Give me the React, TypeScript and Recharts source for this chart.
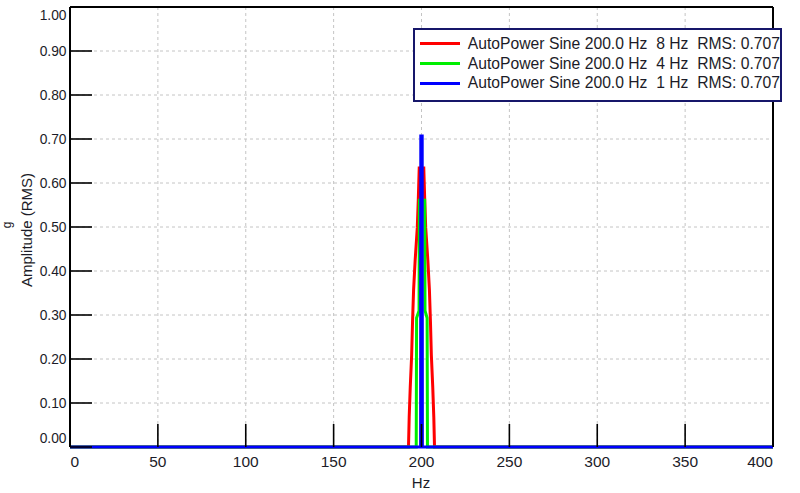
import React from "react";
import { LineChart, Line, XAxis, YAxis, CartesianGrid, ReferenceLine } from "recharts";

const xTicks = [0, 50, 100, 150, 200, 250, 300, 350, 400];
const yTicks = [0, 0.1, 0.2, 0.3, 0.4, 0.5, 0.6, 0.7, 0.8, 0.9, 1.0];

// 8 Hz bandwidth (red)
const redHz = [0, 192.6, 193.0, 193.6, 194.4, 194.9, 195.5, 196.4, 197.6, 198.2, 198.7,
  201.3, 201.8, 202.4, 203.6, 204.5, 205.1, 205.6, 206.4, 207.0, 207.4, 400];
const redAmp = [0, 0, 0.068, 0.136, 0.209, 0.284, 0.357, 0.425, 0.498, 0.566, 0.634,
  0.634, 0.566, 0.498, 0.425, 0.357, 0.284, 0.209, 0.136, 0.068, 0, 0];

// 4 Hz bandwidth (green)
const greenHz = [0, 197.0, 197.2, 198.6, 198.8, 201.8, 202.0, 203.2, 203.4, 400];
const greenAmp = [0, 0, 0.293, 0.31, 0.561, 0.561, 0.31, 0.293, 0, 0];

// 1 Hz bandwidth (blue)
const blueHz = [0, 199.5, 199.6, 200.4, 200.5, 400];
const blueAmp = [0, 0, 0.707, 0.707, 0, 0];

const legendNames = [
  "AutoPower Sine 200.0 Hz  8 Hz  RMS: 0.707",
  "AutoPower Sine 200.0 Hz  4 Hz  RMS: 0.707",
  "AutoPower Sine 200.0 Hz  1 Hz  RMS: 0.707",
];
const colors = ["#ff0000", "#00ee00", "#0000ff"];

const toRows = (hz: number[], amp: number[]) => hz.map((h, i) => ({ hz: h, amp: amp[i] }));
const series = [toRows(redHz, redAmp), toRows(greenHz, greenAmp), toRows(blueHz, blueAmp)];

const FONT = '"Liberation Sans", Arial, sans-serif';
const TEXT = "#1c1c28";

function XTick(props: any) {
  const { x, y, payload } = props;
  const v = payload.value;
  const anchor = v === 0 ? "start" : v === 400 ? "end" : "middle";
  return (
    <g>
      <line x1={x} y1={y} x2={x} y2={y - 23} stroke="#000" strokeWidth={1.6} />
      <text x={v === 0 ? x + 0.5 : x} y={y + 20} textAnchor={anchor}
            fontFamily={FONT} fontSize={15.5} fill={TEXT}>{v}</text>
    </g>
  );
}

function YTick(props: any) {
  const { x, y, payload } = props;
  const v = payload.value;
  const dy = v === 1 ? 13 : v === 0 ? -4 : 5;
  return (
    <g>
      <line x1={x} y1={y} x2={x + 22} y2={y} stroke="#000" strokeWidth={1.6} />
      <text x={x - 3.5} y={y + dy} textAnchor="end"
            fontFamily={FONT} fontSize={13.8} fill={TEXT}>{v.toFixed(2)}</text>
    </g>
  );
}

function YTitle() {
  return (
    <g fontFamily={FONT} fill={TEXT}>
      <text x={32} y={230} fontSize={15} textAnchor="middle" transform="rotate(-90 32 230)">
        Amplitude (RMS)
      </text>
      <text x={11} y={225} fontSize={12} textAnchor="middle" transform="rotate(-90 11 225)">g</text>
    </g>
  );
}

function XTitle() {
  return (
    <text x={421} y={488} fontSize={15} textAnchor="middle" fontFamily={FONT} fill={TEXT}>Hz</text>
  );
}

export default function App() {
  return (
    <div style={{ position: "absolute", left: 0, top: 0, width: 800, height: 493, background: "#fff" }}>
      <LineChart width={800} height={493} margin={{ top: 7, right: 27, bottom: 0, left: 0 }}>
        <CartesianGrid stroke="#c4c4c4" strokeDasharray="3 3" />
        <XAxis dataKey="hz" type="number" domain={[0, 400]} ticks={xTicks} interval={0}
               allowDataOverflow height={46} tickSize={0} tickMargin={0} tickLine={false}
               axisLine={false} tick={<XTick />} label={<XTitle />} />
        <YAxis type="number" domain={[0, 1]} ticks={yTicks} interval={0} width={70}
               tickSize={0} tickMargin={0} tickLine={false}
               axisLine={{ stroke: "#000", strokeWidth: 2 }} tick={<YTick />} label={<YTitle />} />
        <ReferenceLine y={1} stroke="#000" strokeWidth={2} />
        <ReferenceLine x={400} stroke="#000" strokeWidth={2} />
        {series.map((d, i) => (
          <Line key={i} data={d} dataKey="amp" type="linear" stroke={colors[i]} strokeWidth={3}
                dot={false} isAnimationActive={false} />
        ))}
      </LineChart>
      <div style={{ position: "absolute", left: 413, top: 28, width: 365, height: 66,
                    border: "2px solid #16166a", background: "#fff", fontFamily: FONT,
                    fontSize: 15.7, color: TEXT, paddingTop: 4, boxSizing: "content-box" }}>
        {legendNames.map((n, i) => (
          <div key={i} style={{ display: "flex", alignItems: "center", height: 19.7, whiteSpace: "pre" }}>
            <span style={{ display: "inline-block", width: 40, height: 3, background: colors[i],
                           marginLeft: 5, marginRight: 8 }} />
            <span>{n}</span>
          </div>
        ))}
      </div>
    </div>
  );
}
